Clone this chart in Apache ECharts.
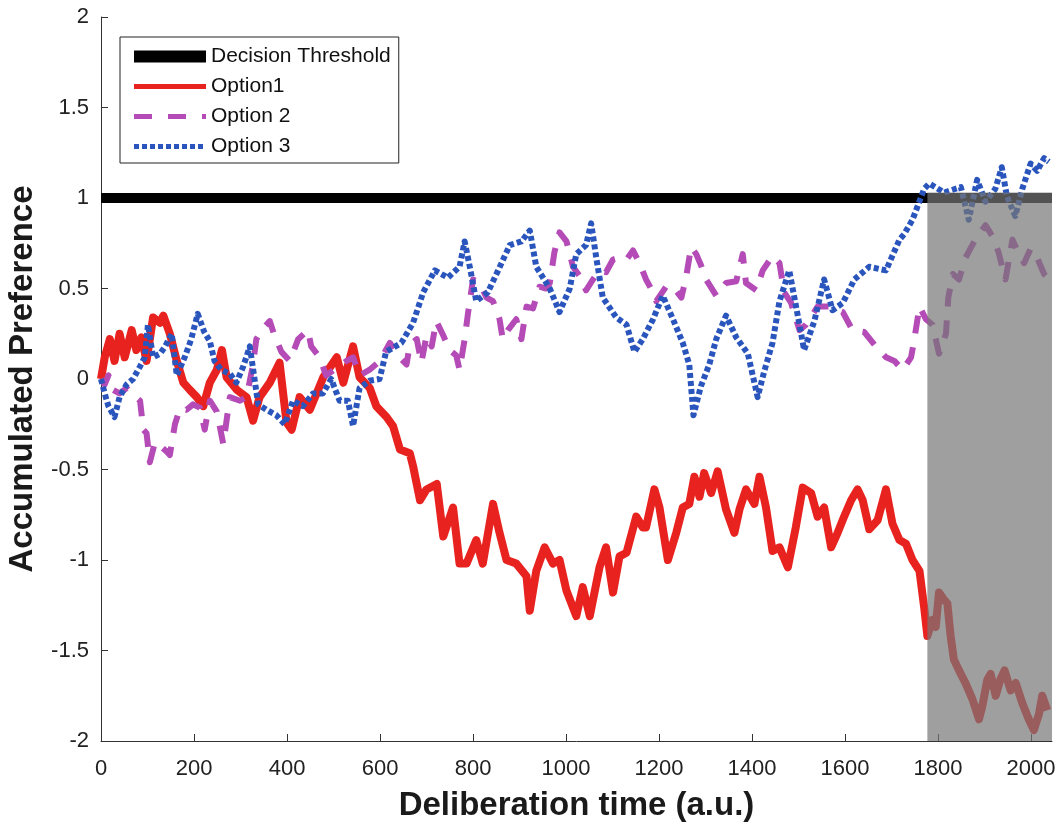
<!DOCTYPE html>
<html>
<head>
<meta charset="utf-8">
<script src="https://cdn.jsdelivr.net/npm/echarts@6/dist/echarts.min.js"></script>
<style>
  html, body { margin: 0; padding: 0; background: #fff; }
  #chart { width: 1060px; height: 822px; }
</style>
</head>
<body>
<div id="chart"></div>
<script>
// x 轴刻度
const xTicks = [0, 200, 400, 600, 800, 1000, 1200, 1400, 1600, 1800, 2000]

// 决策阈值
const threshold = [[0, 1], [2045, 1]]

// 阴影区间 [起点, 终点, 下界, 上界]
const shadeRange = [1777, 2045, -2, 1.03]

// Option1 (红色实线)
const option1 = [
  [0, 0], [8, 0.12], [19, 0.22], [29, 0.10], [40, 0.25], [51, 0.12], [66, 0.27], [76, 0.16],
  [87, 0.23], [98, 0.10], [112, 0.34], [127, 0.31], [134, 0.35], [148, 0.25], [163, 0.10],
  [177, -0.02], [191, -0.06], [206, -0.10], [220, -0.15], [234, -0.02], [249, 0.05], [260, 0.16],
  [270, 0.01], [292, -0.06], [313, -0.10], [327, -0.23], [341, -0.10], [363, -0.02], [384, 0.09],
  [399, -0.24], [410, -0.28], [427, -0.10], [449, -0.17], [478, 0.01], [507, 0.12], [521, -0.02],
  [542, 0.18], [556, 0.01], [578, -0.05], [592, -0.15], [614, -0.21], [628, -0.26], [643, -0.39],
  [664, -0.41], [671, -0.48], [686, -0.67], [700, -0.61], [722, -0.58], [736, -0.87], [757, -0.71],
  [771, -1.02], [786, -1.02], [807, -0.89], [821, -1.02], [843, -0.69], [857, -0.85], [872, -1.00],
  [893, -1.02], [915, -1.09], [922, -1.28], [936, -1.06], [954, -0.93], [972, -1.02], [986, -1.00],
  [1001, -1.17], [1022, -1.31], [1036, -1.15], [1051, -1.31], [1072, -1.04], [1086, -0.93],
  [1101, -1.18], [1115, -0.98], [1130, -0.96], [1151, -0.76], [1165, -0.82], [1172, -0.82],
  [1190, -0.61], [1201, -0.71], [1219, -1.0], [1237, -0.85], [1251, -0.71], [1265, -0.69],
  [1276, -0.54], [1287, -0.65], [1297, -0.52], [1312, -0.63], [1326, -0.51], [1344, -0.72],
  [1362, -0.85], [1373, -0.72], [1387, -0.61], [1405, -0.69], [1416, -0.54], [1430, -0.71],
  [1444, -0.95], [1459, -0.93], [1477, -1.04], [1494, -0.82], [1509, -0.6], [1527, -0.63],
  [1541, -0.76], [1555, -0.71], [1570, -0.93], [1584, -0.85], [1598, -0.76], [1613, -0.67],
  [1627, -0.61], [1638, -0.67], [1652, -0.83], [1670, -0.78], [1688, -0.61], [1702, -0.80],
  [1717, -0.89], [1731, -0.91], [1745, -1.0], [1760, -1.06], [1770, -1.26], [1777, -1.42],
  [1788, -1.33], [1795, -1.37], [1802, -1.18], [1813, -1.22], [1820, -1.24], [1827, -1.42],
  [1834, -1.55], [1845, -1.61], [1859, -1.68], [1874, -1.77], [1888, -1.88], [1895, -1.81],
  [1906, -1.66], [1913, -1.63], [1924, -1.75], [1934, -1.66], [1943, -1.61], [1956, -1.72],
  [1967, -1.68], [1981, -1.79], [1995, -1.88], [2006, -1.94], [2017, -1.85], [2024, -1.75],
  [2035, -1.83]
]

// Option 2 (紫色虚线)
const option2 = [
  [0, 0], [8, -0.03], [16, 0.02], [26, -0.06], [40, -0.08], [55, -0.05], [66, -0.08], [84, -0.12],
  [91, -0.28], [98, -0.30], [105, -0.46], [116, -0.35], [127, -0.37], [141, -0.40], [148, -0.42],
  [159, -0.25], [170, -0.16], [184, -0.17], [198, -0.14], [213, -0.16], [223, -0.28], [234, -0.12],
  [249, -0.18], [263, -0.36], [277, -0.10], [299, -0.12], [313, -0.10], [327, 0.08], [334, 0.22],
  [349, 0.28], [363, 0.32], [373, 0.24], [388, 0.15], [406, 0.10], [424, 0.22], [445, 0.27],
  [452, 0.18], [470, 0.12], [484, 0.02], [506, 0.06], [528, 0.10], [542, 0.12], [556, 0.02],
  [577, 0.05], [600, 0.10], [621, 0.20], [642, 0.12], [657, 0.08], [664, 0.19], [679, 0.22],
  [689, 0.09], [700, 0.24], [711, 0.18], [721, 0.32], [736, 0.24], [750, 0.16], [764, 0.13],
  [771, 0.05], [782, 0.22], [789, 0.36], [800, 0.55], [814, 0.53], [829, 0.45], [843, 0.43],
  [857, 0.33], [864, 0.22], [875, 0.27], [893, 0.33], [904, 0.22], [915, 0.40], [929, 0.39],
  [943, 0.51], [957, 0.50], [965, 0.53], [975, 0.70], [986, 0.81], [1001, 0.76], [1015, 0.62],
  [1029, 0.57], [1043, 0.49], [1058, 0.55], [1072, 0.60], [1086, 0.59], [1101, 0.66], [1115, 0.67],
  [1130, 0.66], [1144, 0.71], [1158, 0.64], [1172, 0.55], [1187, 0.48], [1194, 0.43], [1215, 0.51],
  [1230, 0.51], [1248, 0.45], [1258, 0.56], [1269, 0.73], [1280, 0.69], [1290, 0.63], [1301, 0.55],
  [1323, 0.46], [1344, 0.53], [1366, 0.54], [1380, 0.69], [1387, 0.53], [1409, 0.49], [1423, 0.60],
  [1444, 0.68], [1459, 0.64], [1469, 0.48], [1484, 0.42], [1502, 0.27], [1516, 0.30], [1541, 0.40],
  [1566, 0.40], [1595, 0.37], [1616, 0.27], [1641, 0.26], [1666, 0.18], [1688, 0.12], [1706, 0.10],
  [1724, 0.05], [1742, 0.12], [1749, 0.22], [1760, 0.40], [1774, 0.33], [1788, 0.30], [1802, 0.14],
  [1817, 0.25], [1822, 0.45], [1832, 0.58], [1845, 0.55], [1859, 0.67], [1880, 0.77], [1902, 0.85],
  [1919, 0.78], [1930, 0.70], [1945, 0.55], [1960, 0.77], [1974, 0.69], [1985, 0.64], [1999, 0.72],
  [2013, 0.67], [2028, 0.58], [2035, 0.56]
]

// Option 3 (蓝色点线)
const option3 = [
  [0, 0.0], [8, -0.08], [16, -0.15], [29, -0.21], [40, -0.10], [55, -0.03], [69, 0.00], [84, 0.07],
  [94, 0.12], [101, 0.30], [112, 0.12], [127, 0.14], [138, 0.18], [152, 0.25], [163, 0.02],
  [180, 0.12], [194, 0.22], [208, 0.36], [222, 0.26], [234, 0.21], [244, 0.10], [259, 0.05],
  [277, 0.03], [291, -0.02], [306, 0.07], [320, 0.18], [338, -0.14], [356, -0.17], [377, -0.20],
  [395, -0.25], [413, -0.12], [434, -0.15], [456, -0.08], [477, -0.08], [495, 0.00], [513, -0.12],
  [531, -0.12], [542, -0.26], [556, -0.05], [577, -0.01], [599, 0.00], [613, 0.15], [646, 0.20],
  [671, 0.31], [693, 0.48], [718, 0.60], [746, 0.56], [771, 0.62], [782, 0.76], [793, 0.62],
  [807, 0.43], [832, 0.48], [854, 0.60], [879, 0.74], [904, 0.76], [922, 0.82], [936, 0.62],
  [965, 0.50], [986, 0.37], [1008, 0.50], [1022, 0.69], [1043, 0.74], [1054, 0.86], [1065, 0.67],
  [1079, 0.45], [1108, 0.34], [1130, 0.30], [1147, 0.15], [1165, 0.22], [1187, 0.33], [1208, 0.46],
  [1230, 0.33], [1251, 0.20], [1265, 0.08], [1274, -0.20], [1290, -0.04], [1308, 0.08], [1323, 0.22],
  [1344, 0.35], [1366, 0.23], [1391, 0.14], [1412, -0.10], [1427, 0.05], [1444, 0.20], [1459, 0.43],
  [1480, 0.60], [1502, 0.30], [1512, 0.16], [1534, 0.32], [1555, 0.55], [1573, 0.38], [1595, 0.42],
  [1620, 0.55], [1652, 0.62], [1688, 0.60], [1717, 0.77], [1727, 0.80], [1745, 0.88], [1770, 1.05],
  [1781, 1.08], [1813, 1.03], [1849, 1.06], [1866, 0.88], [1884, 1.10], [1902, 0.98], [1923, 1.05],
  [1937, 1.17], [1948, 1.01], [1966, 0.90], [1981, 1.05], [1999, 1.19], [2013, 1.15], [2028, 1.22],
  [2038, 1.20]
]

const FONT = '"Liberation Sans", Arial, sans-serif'

const chart = echarts.init(document.getElementById('chart'), null, { renderer: 'canvas' })

/**
 * 生成折线系列
 */
const lineSeries = (name, data, color, width, type, z) => ({
  name,
  type: 'line',
  data,
  z,
  symbol: 'none',
  showSymbol: false,
  animation: false,
  lineStyle: { color, width, type, cap: 'butt', join: 'round' },
  itemStyle: { color }
})

// 图例项：只画线，不画符号
const legendItem = (name, lineStyle) => ({
  name,
  lineStyle,
  itemStyle: { opacity: 0, borderWidth: 0 }
})

chart.setOption({
  backgroundColor: '#ffffff',
  animation: false,
  grid: { left: 101, right: 8, top: 17, bottom: 81, containLabel: false, outerBoundsMode: 'none' },
  legend: {
    left: 120,
    top: 37,
    orient: 'vertical',
    padding: [9, 8, 6, 8],
    itemWidth: 72,
    itemHeight: 14,
    itemGap: 9,
    backgroundColor: '#ffffff',
    borderColor: '#222',
    borderWidth: 1,
    borderRadius: 0,
    itemStyle: { opacity: 0, borderWidth: 0 },
    textStyle: { fontFamily: FONT, fontSize: 21, color: '#111' },
    data: [
      legendItem('Decision Threshold', { width: 12 }),
      legendItem('Option1', { width: 5 }),
      legendItem('Option 2', { width: 5, type: [18, 16] }),
      legendItem('Option 3', { width: 5, type: [5, 3] })
    ]
  },
  xAxis: {
    type: 'value',
    min: 0,
    max: 2045,
    interval: 200,
    name: 'Deliberation time (a.u.)',
    nameLocation: 'middle',
    nameGap: 48,
    nameTextStyle: { fontFamily: FONT, fontSize: 33, fontWeight: 'bold', color: '#1a1a1a' },
    axisLine: { show: true, onZero: false, lineStyle: { color: '#333', width: 1 } },
    axisTick: { show: true, inside: true, length: 7, lineStyle: { color: '#333' }, customValues: xTicks },
    axisLabel: {
      fontFamily: FONT,
      fontSize: 22,
      color: '#222',
      margin: 17,
      customValues: xTicks,
      formatter: (v) => String(v)
    },
    splitLine: { show: false }
  },
  yAxis: {
    type: 'value',
    min: -2,
    max: 2,
    interval: 0.5,
    name: 'Accumulated Preference',
    nameLocation: 'middle',
    nameGap: 62,
    nameTextStyle: { fontFamily: FONT, fontSize: 33, fontWeight: 'bold', color: '#1a1a1a' },
    axisLine: { show: true, onZero: false, lineStyle: { color: '#333', width: 1 } },
    axisTick: { show: true, inside: true, length: 7, lineStyle: { color: '#333' } },
    axisLabel: { fontFamily: FONT, fontSize: 22, color: '#222', margin: 12, formatter: (v) => String(v) },
    splitLine: { show: false }
  },
  series: [
    lineSeries('Decision Threshold', threshold, '#000000', 10, 'solid', 2),
    lineSeries('Option1', option1, '#e8221e', 8, 'solid', 3),
    lineSeries('Option 2', option2, '#b44bb6', 6, [18, 14], 4),
    lineSeries('Option 3', option3, '#2a55bd', 6, [5, 3], 5),
    {
      // 阴影区域（覆盖在曲线之上）
      type: 'custom',
      silent: true,
      z: 10,
      animation: false,
      encode: { x: [0, 1], y: [2, 3] },
      data: [shadeRange],
      renderItem: (params, api) => {
        const p0 = api.coord([api.value(0), api.value(3)])
        const p1 = api.coord([api.value(1), api.value(2)])
        return {
          type: 'rect',
          shape: { x: p0[0], y: p0[1], width: p1[0] - p0[0], height: p1[1] - p0[1] },
          style: { fill: 'rgba(118,118,118,0.7)' }
        }
      }
    }
  ]
})
</script>
</body>
</html>
